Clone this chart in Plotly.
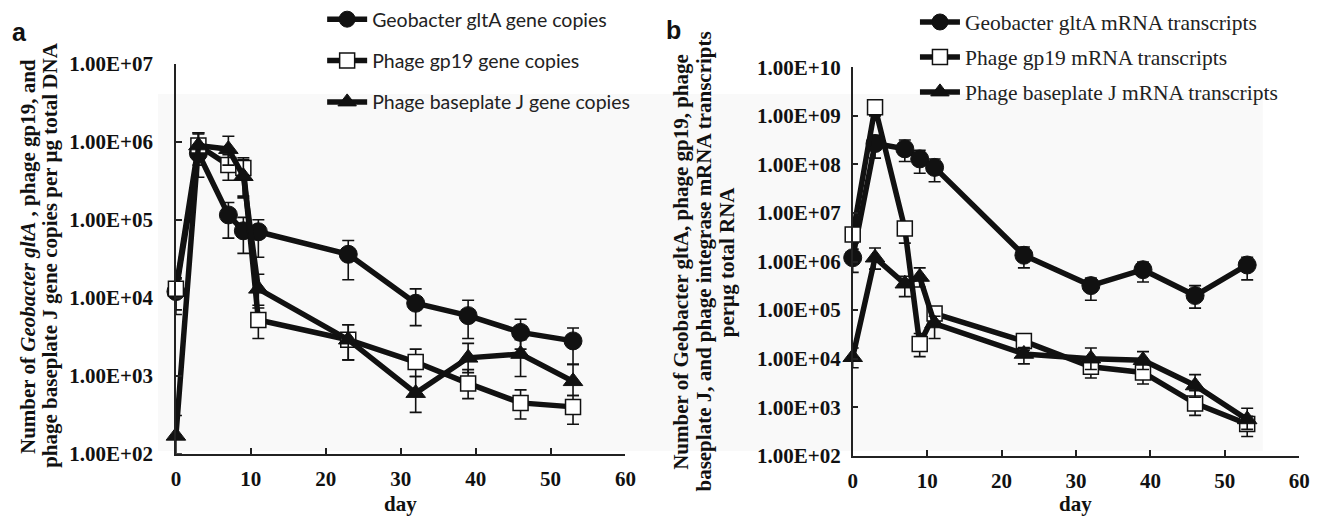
import plotly.graph_objects as go

W, H = 1334, 526

days = [0, 3, 7, 9, 11, 23, 32, 39, 46, 53]

# Panel a: DNA gene copies per ug total DNA
dna_glta = [1.2e4, 7.1e5, 1.15e5, 7.2e4, 7.0e4, 3.6e4, 8.5e3, 5.9e3, 3.6e3, 2.8e3]
dna_glta_hi = [1.74e4, 1.3e6, 1.66e5, 1.07e5, 1.0e5, 5.4e4, 1.3e4, 9.3e3, 5.3e3, 4.1e3]
dna_glta_lo = [6.1e3, 3.5e5, 5.8e4, 3.7e4, 3.3e4, 1.7e4, 4.4e3, 3.0e3, 2.2e3, 1.4e3]

dna_gp19 = [1.3e4, 8.9e5, 5.0e5, 4.6e5, 5.2e3, 2.9e3, 1.5e3, 8.0e2, 4.5e2, 4.0e2]
dna_gp19_hi = [1.8e4, 1.25e6, 6.8e5, 6.2e5, 7.4e3, 4.5e3, 2.2e3, 1.2e3, 6.6e2, 5.6e2]
dna_gp19_lo = [7.0e3, 5.0e5, 3.2e5, 1.9e5, 3.0e3, 1.6e3, 9.8e2, 5.1e2, 2.8e2, 2.4e2]

dna_bpj = [1.7e2, 8.9e5, 8.0e5, 3.6e5, 1.3e4, 2.9e3, 6.0e2, 1.7e3, 1.9e3, 8.5e2]
dna_bpj_hi = [3.1e2, 1.3e6, 1.17e6, 5.9e5, 2.0e4, 4.5e3, 9.8e2, 2.6e3, 2.9e3, 1.4e3]
dna_bpj_lo = [1.0e2, 6.0e5, 5.0e5, 2.0e5, 8.0e3, 1.6e3, 3.4e2, 1.1e3, 9.8e2, 5.6e2]

# Panel b: mRNA transcripts per ug total RNA
rna_glta = [1.2e6, 2.7e8, 2.1e8, 1.3e8, 8.7e7, 1.35e6, 3.2e5, 6.8e5, 2.0e5, 8.5e5]
rna_glta_hi = [1.8e6, 4.0e8, 3.2e8, 1.95e8, 1.3e8, 2.0e6, 4.6e5, 9.8e5, 3.2e5, 1.23e6]
rna_glta_lo = [6.0e5, 1.35e8, 1.15e8, 6.6e7, 4.4e7, 7.4e5, 1.6e5, 3.8e5, 1.1e5, 4.2e5]

rna_gp19 = [3.6e6, 1.5e9, 4.8e6, 2.0e4, 8.5e4, 2.3e4, 6.8e3, 5.2e3, 1.2e3, 4.5e2]
rna_gp19_hi = [5.0e6, 2.0e9, 6.5e6, 3.3e4, 1.15e5, 3.2e4, 9.5e3, 7.5e3, 2.2e3, 6.5e2]
rna_gp19_lo = [2.4e6, 1.0e9, 2.4e6, 1.1e4, 6.0e4, 1.5e4, 4.0e3, 3.0e3, 6.8e2, 2.5e2]

rna_bpj = [1.07e4, 1.2e6, 3.5e5, 4.8e5, 5.3e4, 1.25e4, 1.0e4, 9.3e3, 2.8e3, 5.6e2]
rna_bpj_hi = [1.66e4, 1.9e6, 5.0e5, 7.4e5, 7.5e4, 1.7e4, 1.66e4, 1.4e4, 4.7e3, 9.5e2]
rna_bpj_lo = [6.5e3, 7.0e5, 1.9e5, 3.0e5, 2.6e4, 7.8e3, 6.0e3, 6.0e3, 1.6e3, 3.5e2]

left_names = ["Geobacter gltA gene copies", "Phage gp19 gene copies", "Phage baseplate J gene copies"]
right_names = ["Geobacter gltA mRNA transcripts", "Phage gp19 mRNA transcripts", "Phage baseplate J mRNA transcripts"]

y_ticks_a = [1e2, 1e3, 1e4, 1e5, 1e6, 1e7]
y_ticks_b = [1e2, 1e3, 1e4, 1e5, 1e6, 1e7, 1e8, 1e9, 1e10]
x_ticks = [0, 10, 20, 30, 40, 50, 60]


def sci_label(v):
    s = "%.2E" % v
    mant, ex = s.split("E")
    sign = ex[0]
    digits = ex[1:].lstrip("0").rjust(2, "0")
    return mant + "E" + sign + digits


def px_x(p):
    return p / W


def px_y(p):
    return 1 - p / H


INK = "#111111"
marker_styles = [
    dict(symbol="circle", size=18, color=INK, line=dict(color=INK, width=1)),
    dict(symbol="square", size=15, color="white", line=dict(color=INK, width=1.5)),
    dict(symbol="triangle-up", size=17, color=INK, line=dict(color=INK, width=1)),
]

fig = go.Figure()


def add_series(x, y, hi, lo, name, style, xa, ya, legend):
    plus = [h - v for h, v in zip(hi, y)]
    minus = [v - l for v, l in zip(y, lo)]
    fig.add_trace(go.Scatter(
        x=x, y=y, name=name, mode="lines+markers",
        xaxis=xa, yaxis=ya, legend=legend, legendgroup=legend + name,
        cliponaxis=False,
        line=dict(color=INK, width=5.5),
        marker=style,
        error_y=dict(type="data", symmetric=False, array=plus, arrayminus=minus,
                     color=INK, thickness=1.6, width=6),
    ))


for vals, hi, lo, nm, st in zip([dna_glta, dna_gp19, dna_bpj],
                                [dna_glta_hi, dna_gp19_hi, dna_bpj_hi],
                                [dna_glta_lo, dna_gp19_lo, dna_bpj_lo],
                                left_names, marker_styles):
    add_series(days, vals, hi, lo, nm, st, "x", "y", "legend")

for vals, hi, lo, nm, st in zip([rna_glta, rna_gp19, rna_bpj],
                                [rna_glta_hi, rna_gp19_hi, rna_bpj_hi],
                                [rna_glta_lo, rna_gp19_lo, rna_bpj_lo],
                                right_names, marker_styles):
    add_series(days, vals, hi, lo, nm, st, "x2", "y2", "legend2")

tick_font = dict(family="Liberation Serif", size=21, color=INK, weight="bold")
axis_common = dict(showline=True, linecolor="#222222", linewidth=1.5, ticks="inside",
                   ticklen=6, tickwidth=1.5, tickcolor="#222222", showgrid=False,
                   zeroline=False, tickfont=tick_font)

fig.update_layout(
    width=W, height=H,
    margin=dict(l=0, r=0, t=0, b=0),
    paper_bgcolor="white",
    plot_bgcolor="rgba(0,0,0,0)",
    xaxis=dict(domain=[px_x(173), px_x(628)], range=[0, 60], tickvals=x_ticks,
               anchor="y", ticklabelstandoff=5, **axis_common),
    yaxis=dict(domain=[px_y(463), px_y(54)], type="log", range=[2, 7], tickvals=y_ticks_a,
               ticktext=[sci_label(v) for v in y_ticks_a], anchor="x",
               ticklabelstandoff=17, **axis_common),
    xaxis2=dict(domain=[px_x(858), px_x(1310)], range=[0, 60], tickvals=x_ticks,
                anchor="y2", ticklabelstandoff=5, **axis_common),
    yaxis2=dict(domain=[px_y(465), px_y(58)], type="log", range=[2, 10], tickvals=y_ticks_b,
                ticktext=[sci_label(v) for v in y_ticks_b], anchor="x2",
                ticklabelstandoff=6, **axis_common),
    legend=dict(x=px_x(321), y=px_y(-13), xanchor="left", yanchor="top",
                bgcolor="rgba(0,0,0,0)", tracegroupgap=13, itemwidth=40,
                font=dict(family="Lato", size=19.5, color="#222222")),
    legend2=dict(x=px_x(921), y=px_y(-11), xanchor="left", yanchor="top",
                 bgcolor="rgba(0,0,0,0)", tracegroupgap=4, itemwidth=40,
                 font=dict(family="Liberation Serif", size=21.5, color="#222222")),
    showlegend=True,
)

# subtle grey backdrop seen in the reference
fig.add_shape(type="rect", xref="paper", yref="paper",
              x0=px_x(155), x1=px_x(1273), y0=px_y(460), y1=px_y(86),
              fillcolor="#f9f9f9", line=dict(width=0), layer="below")

title_font = dict(family="Liberation Serif", size=21, color=INK, weight="bold")
ann = [
    dict(text="a", x=px_x(15), y=px_y(21), font=dict(family="Liberation Sans", size=25, color=INK, weight="bold")),
    dict(text="b", x=px_x(677), y=px_y(19), font=dict(family="Liberation Sans", size=25, color=INK, weight="bold")),
    dict(text="Number of <i>Geobacter gltA</i> , phage gp19, and", x=px_x(24), y=px_y(256), textangle=-90, font=title_font),
    dict(text="phage baseplate J gene copies per µg total DNA", x=px_x(46), y=px_y(254), textangle=-90, font=title_font),
    dict(text="Number of Geobacter gltA, phage gp19, phage", x=px_x(684), y=px_y(262), textangle=-90, font=title_font),
    dict(text="baseplate J, and phage integrase mRNA transcripts", x=px_x(708), y=px_y(262), textangle=-90, font=title_font),
    dict(text="perµg total RNA", x=px_x(731), y=px_y(262), textangle=-90, font=title_font),
    dict(text="day", x=px_x(400), y=px_y(515), font=title_font),
    dict(text="day", x=px_x(1084), y=px_y(515), font=title_font),
]
for a in ann:
    fig.add_annotation(xref="paper", yref="paper", showarrow=False,
                       xanchor="center", yanchor="middle", **a)

fig.write_html("out.html")
